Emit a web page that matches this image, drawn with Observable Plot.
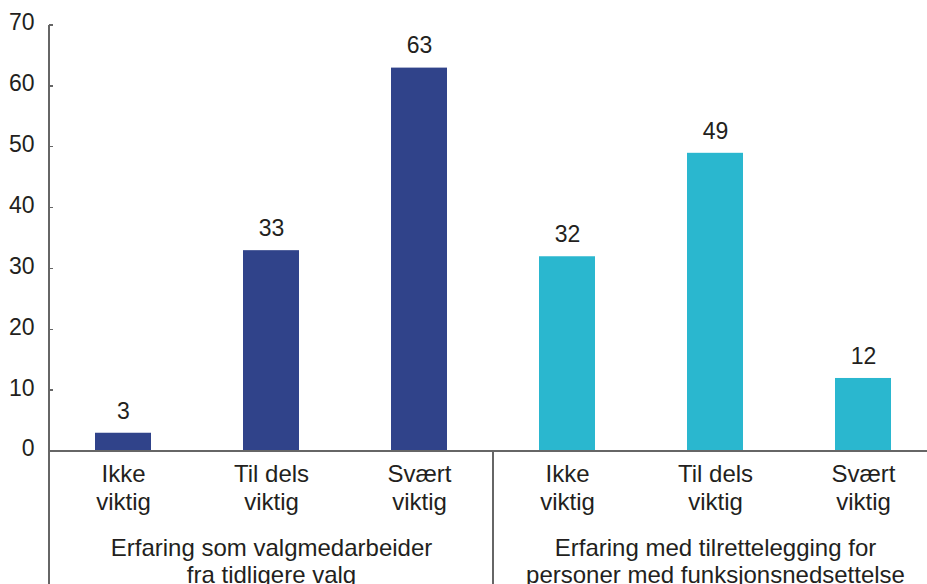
<!DOCTYPE html>
<html>
<head>
<meta charset="utf-8">
<script src="https://cdn.jsdelivr.net/npm/d3@7"></script>
<script src="https://cdn.jsdelivr.net/npm/@observablehq/plot@0.6"></script>
<style>
  html, body { margin: 0; padding: 0; background: #ffffff; overflow: hidden; }
  #chart { width: 927px; height: 584px; overflow: hidden; }
</style>
</head>
<body>
<div id="chart"></div>
<script>
const categories = ["Ikke\nviktig", "Til dels\nviktig", "Svært\nviktig"];
const groups = [
  "Erfaring som valgmedarbeider\nfra tidligere valg",
  "Erfaring med tilrettelegging for\npersoner med funksjonsnedsettelse"
];
const valuesGroup1 = [3, 33, 63];
const valuesGroup2 = [32, 49, 12];
const groupColors = ["#30438a", "#2ab7cf"];
const yTicks = [0, 10, 20, 30, 40, 50, 60, 70];

const seriesValues = [valuesGroup1, valuesGroup2];
const rows = [];
groups.forEach((g, gi) => {
  categories.forEach((c, ci) => {
    rows.push({key: gi + "|" + ci, group: gi, label: c, value: seriesValues[gi][ci], color: groupColors[gi]});
  });
});
const keys = rows.map(d => d.key);
const groupRows = groups.map((g, gi) => ({key: gi + "|1", label: g}));

const textColor = "#231f20";
const axisColor = "#666666";
const font = "'Liberation Sans', Arial, sans-serif";

const chart = Plot.plot({
  width: 927,
  height: 584,
  marginLeft: 49,
  marginRight: 0,
  marginTop: 25,
  marginBottom: 133,
  style: {fontFamily: font, fontSize: "23px", color: textColor, background: "#ffffff"},
  x: {domain: keys, range: [49, 937], paddingInner: 0.62, paddingOuter: 0.31, align: 0.5, axis: null},
  y: {domain: [0, 70], range: [451, 25], axis: null},
  marks: [
    Plot.axisY({ticks: yTicks, tickSize: 0, tickPadding: 15, fontSize: 23, dy: -2.5, label: null, tickFormat: d => String(d), fill: textColor}),
    Plot.barY(rows, {x: "key", y: "value", fill: "color"}),
    Plot.text(rows, {x: "key", y: "value", text: d => String(d.value), lineAnchor: "top", dy: -31, fontSize: 23, fill: textColor}),
    Plot.text(rows, {x: "key", y: () => 0, text: "label", lineAnchor: "top", dy: 11.5, lineHeight: 1.14, fontSize: 24, fill: textColor}),
    Plot.text(groupRows, {x: "key", y: () => 0, text: "label", lineAnchor: "top", dy: 84.5, lineHeight: 1.15, fontSize: 24, fill: textColor})
  ]
});

// axis lines and group separators placed through the plot's own scales
const xs = chart.scale("x");
const ys = chart.scale("y");
const svg = d3.select(chart.tagName.toLowerCase() === "svg" ? chart : chart.querySelector("svg"));
const step = xs.step;
const bandStart = k => xs.apply(k) - (step - xs.bandwidth) / 2;
const x0 = bandStart(keys[0]);
const xEnd = bandStart(keys[keys.length - 1]) + step;
const y0 = ys.apply(0);
const yTop = ys.apply(yTicks[yTicks.length - 1]);
const g = svg.append("g").attr("stroke", axisColor).attr("stroke-width", 1.3).attr("shape-rendering", "crispEdges");
g.append("line").attr("x1", x0).attr("x2", x0).attr("y1", yTop).attr("y2", 584);
g.append("line").attr("x1", x0).attr("x2", xEnd).attr("y1", y0).attr("y2", y0);
const sepX = bandStart(keys[categories.length]);
g.append("line").attr("x1", sepX).attr("x2", sepX).attr("y1", y0).attr("y2", 584);
yTicks.forEach(t => {
  const y = ys.apply(t);
  g.append("line").attr("x1", x0).attr("x2", x0 + 4).attr("y1", y).attr("y2", y);
});

document.getElementById("chart").appendChild(chart);
</script>
</body>
</html>
